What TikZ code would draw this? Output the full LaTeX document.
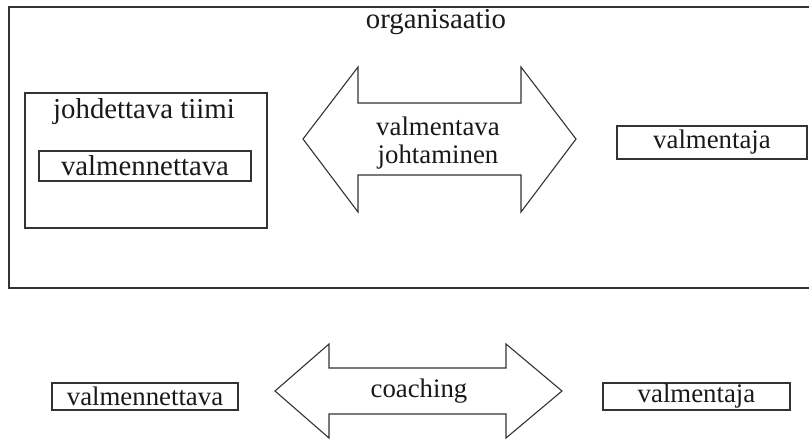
\documentclass[tikz,border=0pt]{standalone}
\usepackage{fontspec}
\setmainfont{Liberation Serif}
\begin{document}
\begin{tikzpicture}[x=1pt,y=-1pt,
  txt/.style={font=\fontsize{26.8}{28}\selectfont, text=black!90, inner sep=0pt},
  bigtxt/.style={font=\fontsize{28.8}{30}\selectfont, text=black!90, inner sep=0pt},
  boxed/.style={txt, draw=black!80, line width=1.2pt},
  frame/.style={draw=black!80, line width=1.2pt},
  dblarr/.style={draw=black!80, line width=1.1pt, line join=miter, fill=white}]
\useasboundingbox (0,0) rectangle (809,440);
% organisation frame (right side runs off the page)
\draw[frame] (812,7) -- (9,7) -- (9,288) -- (812,288);
\node[bigtxt, anchor=base] (org) at (436,28) {organisaatio};
% team box
\node[frame, minimum width=242pt, minimum height=135pt, inner sep=0pt] (team) at (146,160.5) {};
\node[bigtxt, anchor=base] (teamlbl) at (144,118) {johdettava tiimi};
\node[boxed, bigtxt, draw=black!80, line width=1.2pt, minimum width=212pt, minimum height=30pt] (coachee1) at (145,166) {valmennettava};
% coach box top
\node[boxed, minimum width=190pt, minimum height=33pt] (coach1) at (712,142.5) {valmentaja};
% top double arrow
\draw[dblarr] (303,139) -- (358,67) -- (358,103) -- (521,103) -- (521,67) -- (576,139)
  -- (521,212) -- (521,175) -- (358,175) -- (358,212) -- cycle;
\node[txt, align=center] (vj) at (438,142.7) {valmentava\\johtaminen};
% bottom row
\node[boxed, minimum width=186pt, minimum height=27pt] (coachee2) at (145,396.5) {valmennettava};
\node[boxed, minimum width=187pt, minimum height=27pt] (coach2) at (696.5,396.5) {valmentaja};
\draw[dblarr] (275,391) -- (329,344) -- (329,368) -- (506,368) -- (506,344) -- (562,391)
  -- (506,438) -- (506,414) -- (329,414) -- (329,438) -- cycle;
\node[txt] (coaching) at (419,391) {coaching};
\end{tikzpicture}
\end{document}
